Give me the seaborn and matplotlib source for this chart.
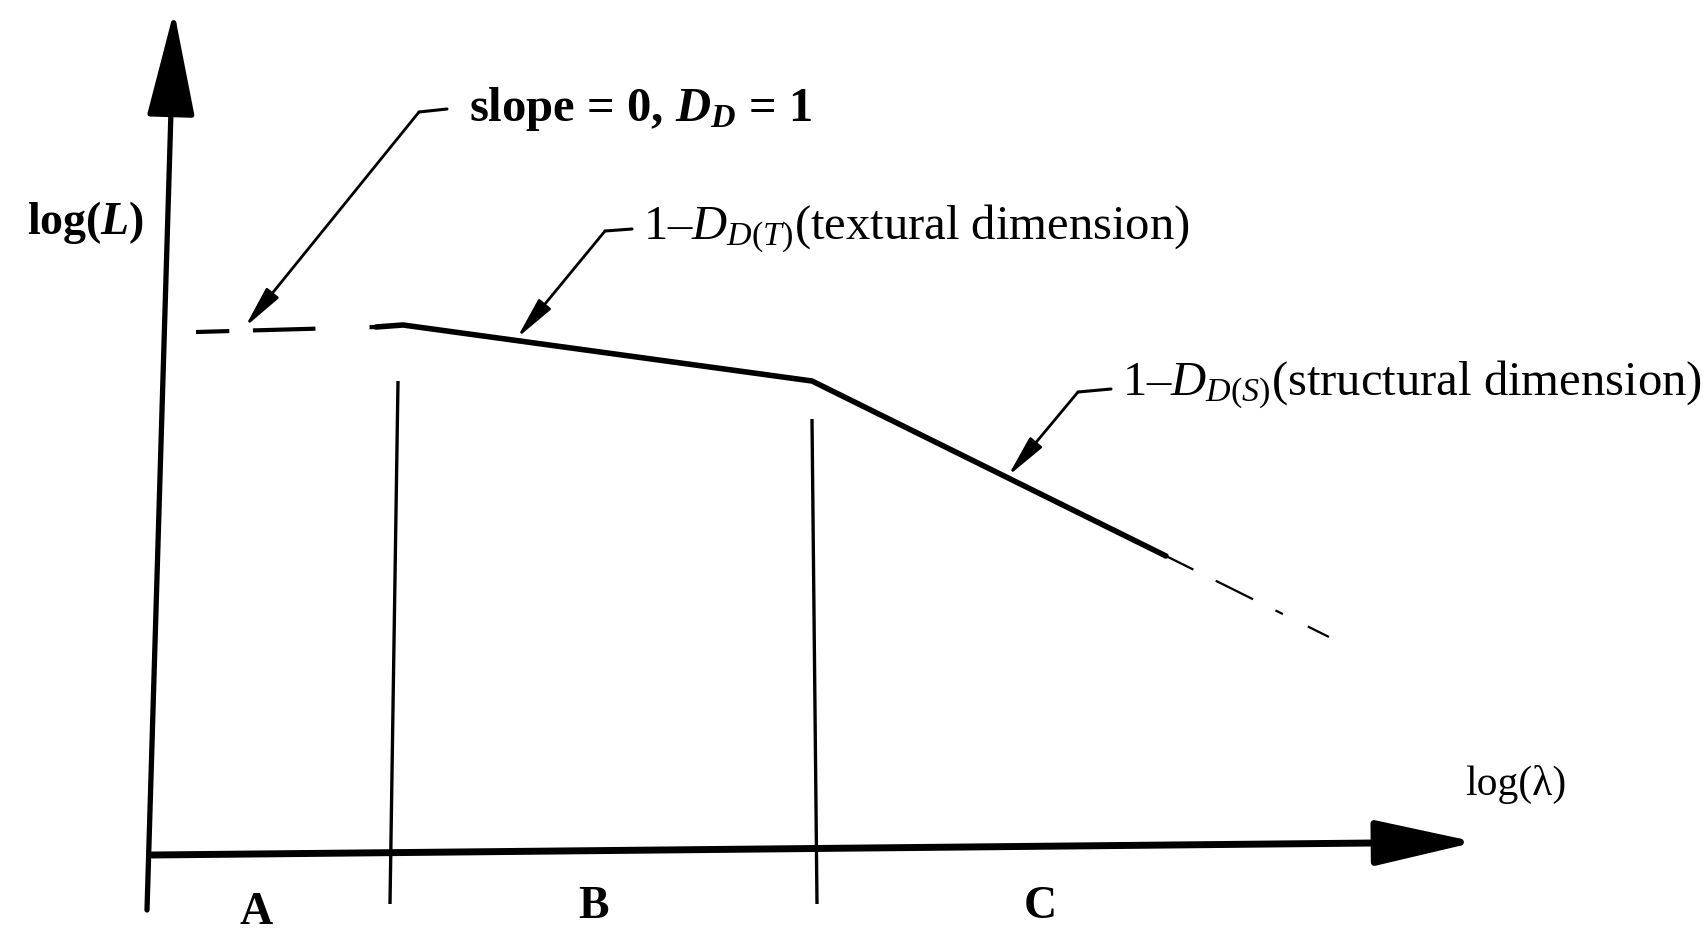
import matplotlib
matplotlib.use("Agg")
import matplotlib.pyplot as plt
import seaborn as sns
import pandas as pd

# ---- schematic values (log scale units, origin at the axes crossing) ----
# flat regime A (dashed), textural regime B, structural regime C
flat_x = [0.44, 2.24]
flat_y = [5.21, 5.26]
curve_x = [2.24, 2.51, 6.60, 10.14]
curve_y = [5.26, 5.28, 4.72, 2.97]
tail_x = [10.14, 11.77]
tail_y = [2.97, 2.16]

# region dividers (x at top, x at bottom, top y, bottom y)
divider_top_x = [2.46, 6.60]
divider_bot_x = [2.38, 6.65]
divider_top_y = [4.72, 4.34]
divider_bot_y = [-0.51, -0.51]

region_labels = ["A", "B", "C"]
region_label_x = [1.04, 4.42, 8.88]
region_label_y = [-0.60, -0.54, -0.54]

# annotations: text, text anchor, elbow, arrow tip
note_texts = ["slope = 0, $\\mathbfit{D}_{\\mathbfit{D}}$ = 1",
              "1–$D_{D(T)}$(textural dimension)",
              "1–$D_{D(S)}$(structural dimension)"]
note_weights = ["bold", "normal", "normal"]
note_sizes = [35, 35, 35]
note_text_xy = [(3.17, 7.44), (4.91, 6.24), (9.70, 4.68)]
note_start_xy = [(2.95, 7.44), (4.80, 6.24), (9.59, 4.64)]
note_elbow_xy = [(2.67, 7.41), (4.53, 6.22), (9.26, 4.61)]
note_tip_xy = [(0.93, 5.26), (3.65, 5.15), (8.56, 3.77)]

sns.set_theme(style="white")
plt.rcParams["font.family"] = ["Liberation Serif", "DejaVu Serif"]
plt.rcParams["mathtext.fontset"] = "custom"
plt.rcParams["mathtext.rm"] = "Liberation Serif"
plt.rcParams["mathtext.it"] = "Liberation Serif:italic"
plt.rcParams["mathtext.bf"] = "Liberation Serif:bold"
plt.rcParams["mathtext.bfit"] = "Liberation Serif:italic:bold"
plt.rcParams["lines.scale_dashes"] = False

fig = plt.figure(figsize=(17.08, 9.31), dpi=100)
ax = fig.add_axes([0, 0, 1, 1])
ax.set_xlim(-1.52, 15.56)
ax.set_ylim(-0.78, 8.53)
ax.axis("off")

# ---- coordinate axes with arrow heads ----
ax.annotate("", xy=(0.22, 8.42), xytext=(-0.05, -0.57),
            arrowprops=dict(arrowstyle="-|>,head_length=3.3,head_width=0.75",
                            mutation_scale=20, lw=3.8, color="black",
                            shrinkA=0, shrinkB=0))
ax.annotate("", xy=(13.24, 0.11), xytext=(0.0, -0.02),
            arrowprops=dict(arrowstyle="-|>,head_length=3.1,head_width=0.7",
                            mutation_scale=20, lw=5.0, color="black",
                            shrinkA=0, shrinkB=0))

# ---- region dividers ----
for xt, xb, yt, yb in zip(divider_top_x, divider_bot_x, divider_top_y, divider_bot_y):
    ax.plot([xt, xb], [yt, yb], color="black", lw=2.4, solid_capstyle="butt")

# ---- log(L) vs log(lambda) curve ----
flat = pd.DataFrame({"x": flat_x, "y": flat_y})
curve = pd.DataFrame({"x": curve_x, "y": curve_y})
tail = pd.DataFrame({"x": tail_x, "y": tail_y})
sns.lineplot(data=flat, x="x", y="y", ax=ax, color="black", lw=3.0,
             sort=False, estimator=None, linestyle=(0, (24, 17, 45, 39)))
sns.lineplot(data=curve, x="x", y="y", ax=ax, color="black", lw=4.0,
             sort=False, estimator=None)
sns.lineplot(data=tail, x="x", y="y", ax=ax, color="black", lw=1.6,
             sort=False, estimator=None, linestyle=(0, (22, 18, 30, 18, 6, 20)))

# ---- leader lines and labels ----
for txt, w, fs, txy, sxy, exy, pxy in zip(note_texts, note_weights, note_sizes,
                                           note_text_xy, note_start_xy,
                                           note_elbow_xy, note_tip_xy):
    ax.plot([sxy[0], exy[0]], [sxy[1], exy[1]], color="black", lw=2.2)
    ax.annotate("", xy=pxy, xytext=exy,
                arrowprops=dict(arrowstyle="-|>,head_length=1.6,head_width=0.3",
                                mutation_scale=16, lw=2.0, color="black",
                                shrinkA=0, shrinkB=0))
    ax.text(txy[0], txy[1], txt, fontsize=fs, fontweight=w,
            ha="left", va="center", color="black")

ax.text(-0.66, 6.30, "log($\\mathbfit{L}$)", fontsize=33, fontweight="bold",
        ha="center", va="center", color="black")
ax.text(13.64, 0.69, "log(λ)", fontsize=30, ha="center", va="center",
        color="black")

for lab, lx, ly in zip(region_labels, region_label_x, region_label_y):
    ax.text(lx, ly, lab, fontsize=33, fontweight="bold", ha="center",
            va="center", color="black")

fig.savefig("out.png", dpi=100)
